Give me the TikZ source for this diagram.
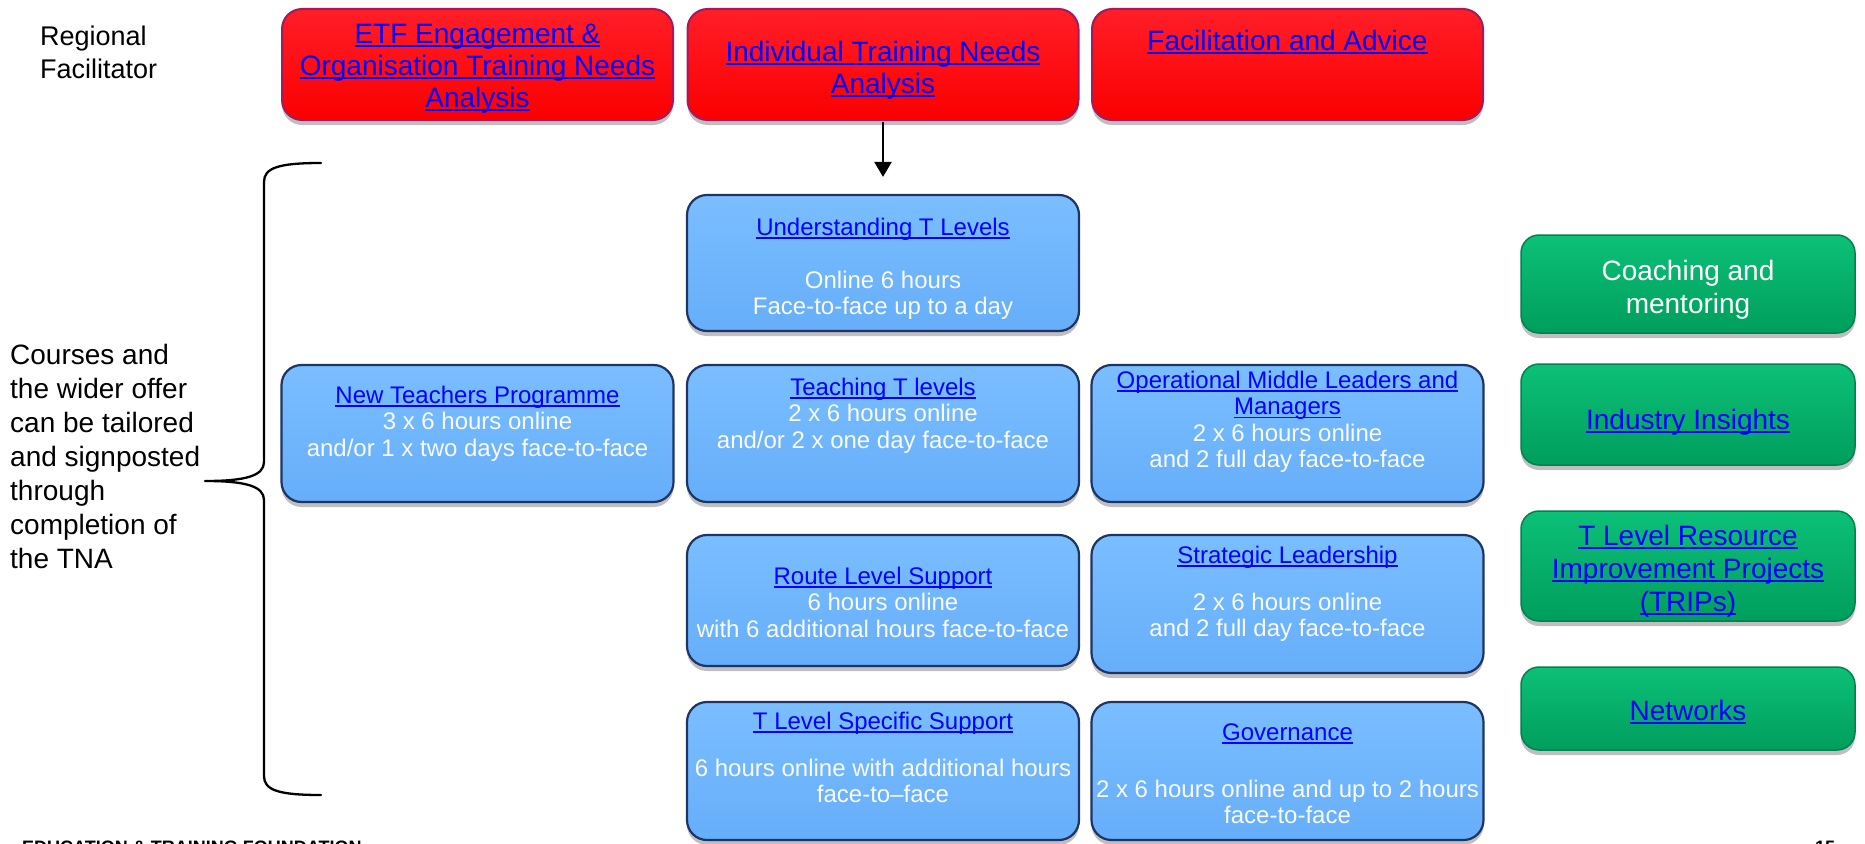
\documentclass[tikz,border=0pt]{standalone}
\usepackage{fontspec}
\setmainfont{Liberation Sans}
\usetikzlibrary{shadows,arrows.meta}

\definecolor{linkblue}{RGB}{0,0,255}
\definecolor{redfill}{RGB}{250,0,0}
\definecolor{redtop}{RGB}{255,30,40}
\definecolor{redline}{RGB}{165,25,95}
\definecolor{bluefill}{RGB}{102,174,250}
\definecolor{bluetop}{RGB}{122,190,255}
\definecolor{blueline}{RGB}{30,52,100}
\definecolor{greentop}{RGB}{12,192,120}
\definecolor{greenbot}{RGB}{0,158,92}
\definecolor{greenline}{RGB}{0,130,80}
\definecolor{offwhite}{RGB}{250,250,250}

\newlength\lkw
\newcommand\lk[1]{\settowidth\lkw{#1}\leavevmode\rlap{\color{linkblue}\rule[-0.15em]{\lkw}{0.07em}}{\color{linkblue}#1}}

\begin{document}
\begin{tikzpicture}[x=1pt,y=-1pt,
  box/.style={rectangle, rounded corners=20pt, inner sep=0pt,
    drop shadow={shadow xshift=0pt, shadow yshift=-5pt, opacity=0.25, fill=black}},
  redbox/.style={box, draw=redline, line width=2pt, top color=redtop, bottom color=redfill,
    minimum width=391pt, minimum height=111pt},
  bluebox/.style={box, draw=blueline, line width=2.2pt, top color=bluetop, bottom color=bluefill,
    minimum width=392pt},
  greenbox/.style={box, draw=greenline, line width=1.5pt, top color=greentop, bottom color=greenbot,
    minimum width=334pt, rounded corners=18pt},
  redtxt/.style={anchor=north, inner sep=0pt, align=center, font=\fontsize{28}{32}\selectfont},
  bluetxt/.style={anchor=north, inner sep=0pt, align=center, text=offwhite, font=\fontsize{24}{26.5}\selectfont},
  greentxt/.style={anchor=north, inner sep=0pt, align=center, text=white, font=\fontsize{28}{33}\selectfont},
  regtxt/.style={anchor=north west, inner sep=0pt, align=left, font=\fontsize{27}{33}\selectfont},
  crstxt/.style={anchor=north west, inner sep=0pt, align=left, font=\fontsize{28}{34}\selectfont},
  foot/.style={anchor=base west, inner sep=0pt, font=\fontsize{18}{20}\selectfont\bfseries},
  arrowline/.style={line width=2.5pt, -{Triangle[width=17pt,length=15pt]}},
  braceline/.style={line width=2.3pt, line cap=round, line join=round}
]
\useasboundingbox (0,0) rectangle (1865,843);

% ---- red row
\node[redbox] (r1) at (477.5,64.5) {};
\node[redbox] (r2) at (883,64.5) {};
\node[redbox] (r3) at (1287.5,64.5) {};
\node[redtxt] (r1t) at (477.5,20.6) {\strut\lk{ETF Engagement \&}\\\lk{Organisation Training Needs}\\\lk{Analysis}};
\node[redtxt] (r2t) at (883,38.6) {\strut\lk{Individual Training Needs}\\\lk{Analysis}};
\node[redtxt] (r3t) at (1287.5,27.6) {\strut\lk{Facilitation and Advice}};

% ---- left texts
\node[regtxt] (reg) at (40,21.9) {\strut Regional\\Facilitator};
\node[crstxt] (crs) at (10,340.2) {\strut Courses and\\the wider offer\\can be tailored\\and signposted\\through\\completion of\\the TNA};

% ---- blue boxes
\node[bluebox, minimum height=136pt] (ut)  at (883,263) {};
\node[bluebox, minimum height=137pt] (ntp) at (477.5,433.5) {};
\node[bluebox, minimum height=137pt] (tt)  at (883,433.5) {};
\node[bluebox, minimum height=137pt] (om)  at (1287.5,433.5) {};
\node[bluebox, minimum height=131pt] (rl)  at (883,600.5) {};
\node[bluebox, minimum height=138pt] (sl)  at (1287.5,604) {};
\node[bluebox, minimum height=138pt] (tls) at (883,771) {};
\node[bluebox, minimum height=138pt] (gov) at (1287.5,771) {};

\node[bluetxt] (utt) at (883,216.45) {\strut\lk{Understanding T Levels}\\[26.5pt]Online 6 hours\\Face-to-face up to a day};
\node[bluetxt] (ntpt) at (477.5,384.45) {\strut\lk{New Teachers Programme}\\3 x 6 hours online\\and/or 1 x two days face-to-face};
\node[bluetxt] (ttt) at (883,376.45) {\strut\lk{Teaching T levels}\\2 x 6 hours online\\and/or 2 x one day face-to-face};
\node[bluetxt] (omt) at (1287.5,369.45) {\strut\lk{Operational Middle Leaders and}\\\lk{Managers}\\2 x 6 hours online\\and 2 full day face-to-face};
\node[bluetxt] (rlt) at (883,565.45) {\strut\lk{Route Level Support}\\6 hours online\\with 6 additional hours face-to-face};
\node[bluetxt] (slt) at (1287.5,544.45) {\strut\lk{Strategic Leadership}\\[20.5pt]2 x 6 hours online\\and 2 full day face-to-face};
\node[bluetxt] (tlst) at (883,710.45) {\strut\lk{T Level Specific Support}\\[20.5pt]6 hours online with additional hours\\face-to–face};
\node[bluetxt] (govt) at (1287.5,721.45) {\strut\lk{Governance}\\[30.5pt]2 x 6 hours online and up to 2 hours\\face-to-face};

% ---- green boxes
\node[greenbox, minimum height=98pt]  (g1) at (1688,284) {};
\node[greenbox, minimum height=101pt] (g2) at (1688,414.5) {};
\node[greenbox, minimum height=110pt] (g3) at (1688,566) {};
\node[greenbox, minimum height=83pt]  (g4) at (1688,708.5) {};
\node[greentxt] (g1t) at (1688,256.9) {\strut Coaching and\\mentoring};
\node[greentxt] (g2t) at (1688,405.9) {\strut\lk{Industry Insights}};
\node[greentxt] (g3t) at (1688,521.9) {\strut\lk{T Level Resource}\\\lk{Improvement Projects}\\\lk{(TRIPs)}};
\node[greentxt] (g4t) at (1688,696.9) {\strut\lk{Networks}};

% ---- arrow
\draw[arrowline, shorten <=1pt, shorten >=17pt] (r2.south) -- (ut.north);

% ---- brace
\coordinate (btop) at (321,163);
\coordinate (btip) at (205,481);
\coordinate (bbot) at (321,795);
\draw[braceline] (btop) .. controls (278,163) and (264,168) .. (264,182)
  -- (264,462) .. controls (264,476) and (245,481) .. (btip)
  .. controls (245,481) and (264,486) .. (264,500)
  -- (264,776) .. controls (264,790) and (278,795) .. (bbot);

% ---- footer (cut off by page edge)
\node[foot] (etf) at (22,853) {EDUCATION \& TRAINING FOUNDATION};
\node[foot] (pg) at (1815,853) {15};
\end{tikzpicture}
\end{document}
